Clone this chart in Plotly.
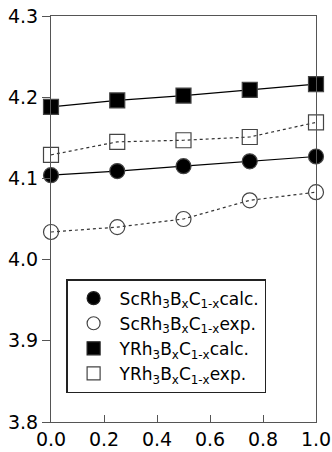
import plotly.graph_objects as go

x_vals = [0.0, 0.25, 0.5, 0.75, 1.0]
sc_calc = [4.104, 4.109, 4.115, 4.121, 4.127]
sc_exp = [4.034, 4.040, 4.050, 4.073, 4.083]
y_calc = [4.188, 4.196, 4.202, 4.209, 4.216]
y_exp = [4.129, 4.145, 4.147, 4.151, 4.169]

names = [
    "ScRh<sub>3</sub>B<sub>x</sub>C<sub>1-x</sub>calc.",
    "ScRh<sub>3</sub>B<sub>x</sub>C<sub>1-x</sub>exp.",
    "YRh<sub>3</sub>B<sub>x</sub>C<sub>1-x</sub>calc.",
    "YRh<sub>3</sub>B<sub>x</sub>C<sub>1-x</sub>exp.",
]

fig = go.Figure()
series = [
    (sc_calc, names[0], "circle", "solid", "black"),
    (sc_exp, names[1], "circle-open", "dot", "#333"),
    (y_calc, names[2], "square", "solid", "black"),
    (y_exp, names[3], "square-open", "dot", "#333"),
]
for vals, name, sym, dash, col in series:
    mcol = "black" if "open" not in sym else "#444"
    fig.add_trace(go.Scatter(
        x=x_vals, y=vals, name=name, mode="lines+markers", showlegend=False,
        line=dict(color=col, width=1.2, dash=dash),
        marker=dict(symbol=sym, size=15, color=mcol,
                    line=dict(color="#444", width=1.2)),
        cliponaxis=False,
    ))
    # legend entry (markers only)
    fig.add_trace(go.Scatter(
        x=[None], y=[None], name=name, mode="markers",
        marker=dict(symbol=sym, size=13, color=mcol,
                    line=dict(color="#222", width=1.2)),
    ))

fig.update_layout(
    width=332, height=452,
    margin=dict(l=51, r=16, t=16, b=30),
    paper_bgcolor="white", plot_bgcolor="white",
    font=dict(family="DejaVu Sans", color="black"),
    showlegend=True,
    legend=dict(
        x=0.057, y=0.352, xanchor="left", yanchor="top",
        bgcolor="white", bordercolor="#222", borderwidth=1.5,
        font=dict(size=17, family="DejaVu Sans"),
        tracegroupgap=0, itemwidth=42,
    ),
    xaxis=dict(
        range=[0, 1.0], tickvals=[0.0, 0.2, 0.4, 0.6, 0.8, 1.0],
        ticktext=["0.0", "0.2", "0.4", "0.6", "0.8", "1.0"],
        ticks="inside", ticklen=7, tickcolor="#555",
        showline=True, linecolor="#555", linewidth=1, mirror=True,
        showgrid=False, zeroline=False, automargin=False,
        tickfont=dict(size=19), fixedrange=True,
    ),
    yaxis=dict(
        range=[3.8, 4.3], tickvals=[3.8, 3.9, 4.0, 4.1, 4.2, 4.3],
        ticktext=["3.8", "3.9", "4.0", "4.1", "4.2", "4.3"],
        ticks="outside", ticklen=8, tickcolor="#555",
        showline=True, linecolor="#555", linewidth=1, mirror=True,
        showgrid=False, zeroline=False, automargin=False,
        tickfont=dict(size=19), fixedrange=True,
    ),
)

fig.write_html("out.html", config={"displayModeBar": False},
               post_script="document.body.style.margin='0';")
